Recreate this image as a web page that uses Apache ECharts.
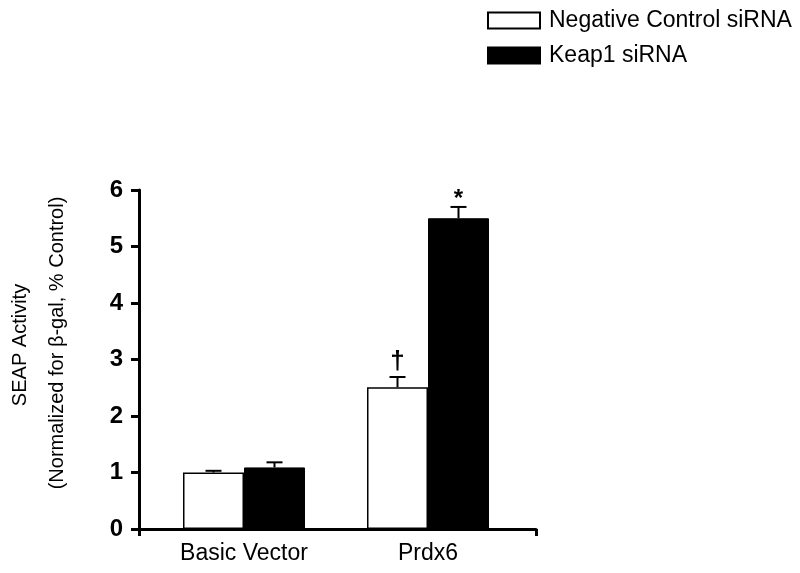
<!DOCTYPE html>
<html>
<head>
<meta charset="utf-8">
<script src="https://cdn.jsdelivr.net/npm/echarts@6/dist/echarts.min.js"></script>
<style>html,body{margin:0;padding:0;background:#fff;}#c{width:800px;height:573px;}</style>
</head>
<body>
<div id="c"></div>
<script>
var categories = ['Basic Vector', 'Prdx6'];
var seriesNames = ['Negative Control siRNA', 'Keap1 siRNA'];
var controlValues = [1.00, 2.51];
var controlErrors = [0.03, 0.18];
var keapValues = [1.09, 5.50];
var keapErrors = [0.09, 0.20];
var controlMarks = ['', '\u2020'];
var keapMarks = ['', '*'];
var yTicks = [0, 1, 2, 3, 4, 5, 6];

var FONT = '"Liberation Sans", Arial, sans-serif';
var BAR_W = 61;

function errSeries(name, values, errors, marks, offset, markStyle) {
  return {
    type: 'custom',
    name: name + ' err',
    xAxisIndex: 0, yAxisIndex: 0,
    z: 5,
    silent: true,
    data: values.map(function (v, i) { return [i, v, errors[i], i]; }),
    renderItem: function (params, api) {
      var i = api.value(0);
      var base = api.coord([i, api.value(1)]);
      var top = api.coord([i, api.value(1) + api.value(2)]);
      var x = base[0] + offset;
      var cap = 8;
      var children = [
        { type: 'line', shape: { x1: x, y1: base[1], x2: x, y2: top[1] }, style: { stroke: '#000', lineWidth: 2 } },
        { type: 'line', shape: { x1: x - cap, y1: top[1], x2: x + cap, y2: top[1] }, style: { stroke: '#000', lineWidth: 2 } }
      ];
      var m = marks[api.value(3)];
      if (m) {
        children.push({ type: 'text', x: x, y: top[1] - markStyle.dy,
          style: { text: m, fontFamily: FONT, fontSize: markStyle.size, fontWeight: markStyle.weight, fill: '#000', align: 'center', verticalAlign: markStyle.va } });
      }
      return { type: 'group', children: children };
    }
  };
}

var chart = echarts.init(document.getElementById('c'), null, { renderer: 'canvas' });
chart.setOption({
  backgroundColor: '#fff',
  animation: false,
  textStyle: { fontFamily: FONT, color: '#000' },
  legend: {
    orient: 'vertical',
    left: 482, top: 4,
    icon: 'rect',
    itemWidth: 52, itemHeight: 16, itemGap: 12,
    textStyle: { fontFamily: FONT, fontSize: 23, color: '#000', padding: [0, 0, 0, 4] },
    data: seriesNames
  },
  grid: [
    { left: 152, right: 280, top: 190, bottom: 44 },
    { left: 139, right: 264, top: 190, bottom: 44 }
  ],
  xAxis: [
    { type: 'category', gridIndex: 0, data: categories,
      axisLine: { show: false }, axisTick: { show: false },
      axisLabel: { fontFamily: FONT, fontSize: 23, color: '#000', margin: 13 } },
    { type: 'value', gridIndex: 1, min: 0, max: 1, interval: 1,
      axisLine: { show: true, lineStyle: { color: '#000', width: 3 } },
      axisTick: { show: true, length: 7, lineStyle: { color: '#000', width: 3 } },
      axisLabel: { show: false }, splitLine: { show: false } }
  ],
  yAxis: [
    { type: 'value', gridIndex: 0, min: 0, max: 6, interval: 1, show: false },
    { type: 'value', gridIndex: 1, min: 0, max: 6, interval: 1,
      axisLine: { show: true, lineStyle: { color: '#000', width: 3 } },
      axisTick: { show: true, length: 8, lineStyle: { color: '#000', width: 3 } },
      axisLabel: { fontFamily: FONT, fontSize: 24, fontWeight: 'bold', color: '#000', margin: 16,
        formatter: function (v) { return yTicks.indexOf(v) >= 0 ? String(v) : ''; } },
      splitLine: { show: false } }
  ],
  graphic: [
    { type: 'text', x: 20, y: 345, rotation: Math.PI / 2,
      style: { text: 'SEAP Activity', fontFamily: FONT, fontSize: 20, fill: '#000', align: 'center', verticalAlign: 'middle' } },
    { type: 'text', x: 57, y: 343, rotation: Math.PI / 2,
      style: { text: '(Normalized for \u03b2-gal, % Control)', fontFamily: FONT, fontSize: 20, fill: '#000', align: 'center', verticalAlign: 'middle' } }
  ],
  series: [
    { type: 'bar', name: seriesNames[0], xAxisIndex: 0, yAxisIndex: 0, data: controlValues,
      barWidth: BAR_W, barGap: '0%',
      itemStyle: { color: '#fff', borderColor: '#000', borderWidth: 1.5 } },
    { type: 'bar', name: seriesNames[1], xAxisIndex: 0, yAxisIndex: 0, data: keapValues,
      barWidth: BAR_W, barGap: '0%',
      itemStyle: { color: '#000', borderColor: '#000', borderWidth: 1 } },
    errSeries(seriesNames[0], controlValues, controlErrors, controlMarks, -BAR_W / 2, { size: 26, weight: 'bold', va: 'bottom', dy: 2 }),
    errSeries(seriesNames[1], keapValues, keapErrors, keapMarks, BAR_W / 2, { size: 24, weight: 'bold', va: 'top', dy: 20 })
  ]
});
</script>
</body>
</html>
